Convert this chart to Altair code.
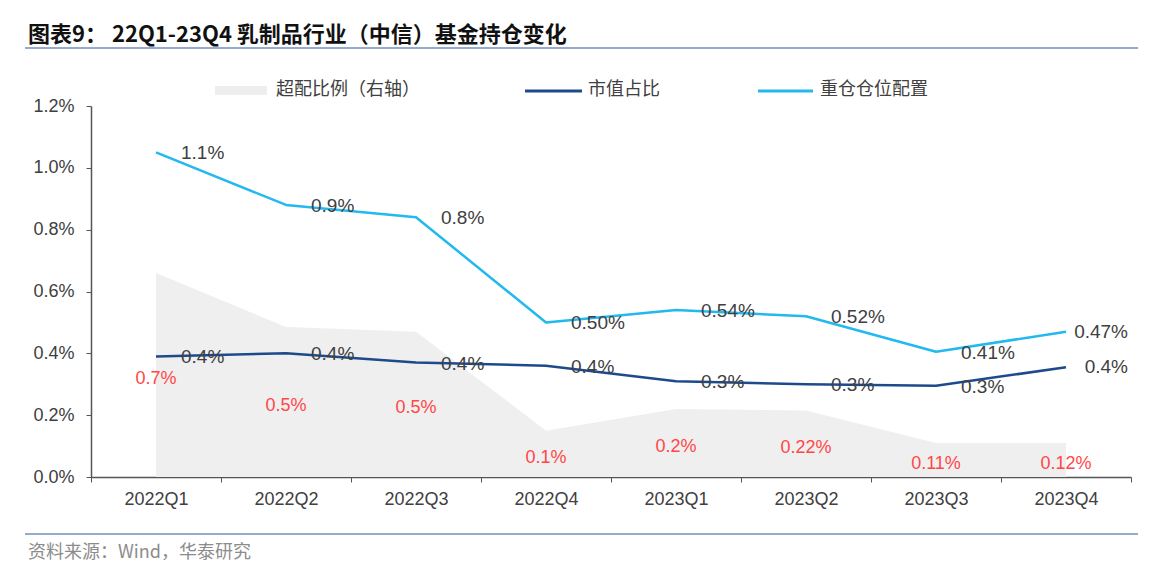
import altair as alt
import pandas as pd

quarters = ["2022Q1", "2022Q2", "2022Q3", "2022Q4", "2023Q1", "2023Q2", "2023Q3", "2023Q4"]
overweight = [0.66, 0.485, 0.47, 0.15, 0.22, 0.215, 0.11, 0.11]
overweight_labels = ["0.7%", "0.5%", "0.5%", "0.1%", "0.2%", "0.22%", "0.11%", "0.12%"]
market_share = [0.39, 0.40, 0.37, 0.36, 0.31, 0.30, 0.295, 0.355]
market_share_labels = ["0.4%", "0.4%", "0.4%", "0.4%", "0.3%", "0.3%", "0.3%", "0.4%"]
heavy_pos = [1.05, 0.88, 0.84, 0.50, 0.54, 0.52, 0.405, 0.47]
heavy_pos_labels = ["1.1%", "0.9%", "0.8%", "0.50%", "0.54%", "0.52%", "0.41%", "0.47%"]
y_ticks = [0.0, 0.2, 0.4, 0.6, 0.8, 1.0, 1.2]

title_text = "图表9：  22Q1-23Q4 乳制品行业（中信）基金持仓变化"
source_text = "资料来源：Wind，华泰研究"
legend_names = ["超配比例（右轴）", "市值占比", "重仓仓位配置"]

DARK = "#1d4a8c"
LIGHT = "#22b9ef"
GRAY = "#efefef"
RED = "#ff4747"
TXT = "#404040"
NUM_FONT = "Liberation Sans"
CJK = "Noto Sans CJK SC"

df = pd.DataFrame({
    "q": quarters,
    "idx": list(range(len(quarters))),
    "over": overweight,
    "over_lbl": overweight_labels,
    "ms": market_share,
    "ms_lbl": market_share_labels,
    "hv": heavy_pos,
    "hv_lbl": heavy_pos_labels,
})

W, H = 1040, 371

xscale = alt.Scale(type="band", paddingInner=0, paddingOuter=0)
yscale = alt.Scale(domain=[0, 1.2], nice=False, zero=True)

x_enc = alt.X("q:N", sort=quarters, scale=xscale, title=None,
              axis=alt.Axis(labelAngle=0, tickBand="extent", labelFont=NUM_FONT,
                            labelFontSize=18, labelColor=TXT, domainColor="#555555",
                            domainWidth=1.5, tickColor="#555555", tickSize=5,
                            labelPadding=8))
x_plain = alt.X("q:N", sort=quarters, scale=xscale, title=None)

def y_of(field):
    return alt.Y(f"{field}:Q", scale=yscale, title=None,
                 axis=alt.Axis(values=y_ticks, labelExpr="format(datum.value, '.1f') + '%'",
                               labelFont=NUM_FONT, labelFontSize=18, labelColor=TXT,
                               domainColor="#555555", domainWidth=1.5, tickColor="#555555",
                               tickSize=5, labelPadding=12, grid=False))

base = alt.Chart(df)

area = base.mark_area(color=GRAY, interpolate="linear").encode(x=x_enc, y=y_of("over"))

area_lbl = base.transform_calculate(mid="datum.over / 2").mark_text(
    font=NUM_FONT, fontSize=18, color=RED, align="center", baseline="middle", dy=4
).encode(x=x_plain, y=alt.Y("mid:Q", scale=yscale), text="over_lbl:N")

line_ms = base.mark_line(color=DARK, strokeWidth=2.5, strokeJoin="round").encode(
    x=x_plain, y=alt.Y("ms:Q", scale=yscale))
line_hv = base.mark_line(color=LIGHT, strokeWidth=2.5, strokeJoin="round").encode(
    x=x_plain, y=alt.Y("hv:Q", scale=yscale))

last = len(quarters) - 1

ms_lbl = base.transform_filter(f"datum.idx < {last}").mark_text(
    font=NUM_FONT, fontSize=19, color=TXT, align="left", baseline="middle", dx=25, dy=1
).encode(x=x_plain, y=alt.Y("ms:Q", scale=yscale), text="ms_lbl:N")
ms_lbl_last = base.transform_filter(f"datum.idx == {last}").mark_text(
    font=NUM_FONT, fontSize=19, color=TXT, align="right", baseline="middle", dx=62, dy=0
).encode(x=x_plain, y=alt.Y("ms:Q", scale=yscale), text="ms_lbl:N")

hv_lbl = base.transform_filter(f"datum.idx < {last}").mark_text(
    font=NUM_FONT, fontSize=19, color=TXT, align="left", baseline="middle", dx=25, dy=1
).encode(x=x_plain, y=alt.Y("hv:Q", scale=yscale), text="hv_lbl:N")
hv_lbl_last = base.transform_filter(f"datum.idx == {last}").mark_text(
    font=NUM_FONT, fontSize=19, color=TXT, align="right", baseline="middle", dx=62, dy=0
).encode(x=x_plain, y=alt.Y("hv:Q", scale=yscale), text="hv_lbl:N")

# decorations (title, separators, legend, source)
one = alt.Data(values=[{"k": 1}])
deco = alt.Chart(one)

title = deco.mark_text(font=CJK, fontSize=22, fontWeight="bold", color="#111111",
                       align="left", baseline="middle").encode(
    x=alt.value(-63), y=alt.value(-71), text=alt.value(title_text))
title_rule = deco.mark_rule(color="#94acd0", strokeWidth=2).encode(
    x=alt.value(-66), x2=alt.value(1047), y=alt.value(-58))
foot_rule = deco.mark_rule(color="#94acd0", strokeWidth=2).encode(
    x=alt.value(-66), x2=alt.value(1047), y=alt.value(428))
source = deco.mark_text(font=CJK, fontSize=18, color="#8c8c8c", align="left",
                        baseline="middle").encode(
    x=alt.value(-63), y=alt.value(447), text=alt.value(source_text))

leg_rect = deco.mark_rect(color="#eeeeee").encode(
    x=alt.value(124), x2=alt.value(176), y=alt.value(-20), y2=alt.value(-11))
leg_t1 = deco.mark_text(font=CJK, fontSize=18, color=TXT, align="left", baseline="middle").encode(
    x=alt.value(185), y=alt.value(-16), text=alt.value(legend_names[0]))
leg_l2 = deco.mark_rule(color=DARK, strokeWidth=3).encode(
    x=alt.value(434), x2=alt.value(491), y=alt.value(-15))
leg_t2 = deco.mark_text(font=CJK, fontSize=18, color=TXT, align="left", baseline="middle").encode(
    x=alt.value(497), y=alt.value(-16), text=alt.value(legend_names[1]))
leg_l3 = deco.mark_rule(color=LIGHT, strokeWidth=3).encode(
    x=alt.value(667), x2=alt.value(722), y=alt.value(-15))
leg_t3 = deco.mark_text(font=CJK, fontSize=18, color=TXT, align="left", baseline="middle").encode(
    x=alt.value(729), y=alt.value(-16), text=alt.value(legend_names[2]))

chart = alt.layer(
    area, area_lbl, line_ms, line_hv, ms_lbl, ms_lbl_last, hv_lbl, hv_lbl_last,
    title, title_rule, foot_rule, source,
    leg_rect, leg_t1, leg_l2, leg_t2, leg_l3, leg_t3,
).properties(
    width=W, height=H,
    autosize=alt.AutoSizeParams(type="none"),
    padding={"left": 91, "top": 106, "right": 22, "bottom": 96},
    background="white",
).configure_view(stroke=None)

chart.save("out.html", embed_options={"renderer": "svg", "actions": False})
